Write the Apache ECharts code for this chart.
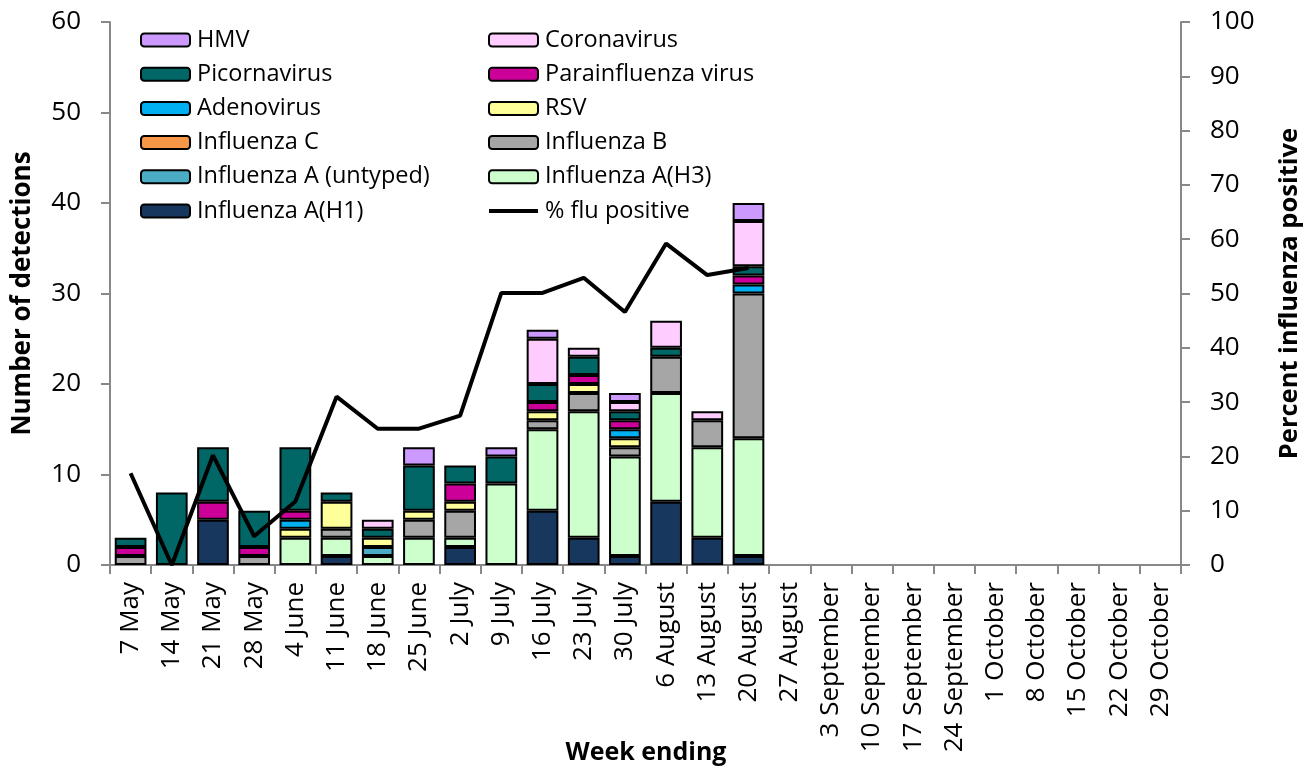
<!DOCTYPE html>
<html>
<head>
<meta charset="utf-8">
<script src="https://cdn.jsdelivr.net/npm/echarts@6/dist/echarts.min.js"></script>
<style>
  html, body { margin: 0; padding: 0; background: #fff; }
  #myChart { width: 1316px; height: 771px; }
</style>
</head>
<body>
<div id="myChart"></div>
<script>
// week ending
var weeks = ['7 May', '14 May', '21 May', '28 May', '4 June', '11 June', '18 June', '25 June',
  '2 July', '9 July', '16 July', '23 July', '30 July', '6 August', '13 August', '20 August',
  '27 August', '3 September', '10 September', '17 September', '24 September',
  '1 October', '8 October', '15 October', '22 October', '29 October']

// detections per week (stacked from bottom)
var fluH1      = [0, 0, 5, 0, 0, 1, 0, 0, 2, 0, 6, 3, 1, 7, 3, 1]
var fluH3      = [0, 0, 0, 0, 3, 2, 1, 3, 1, 9, 9, 14, 11, 12, 10, 13]
var fluUntyped = [0, 0, 0, 0, 0, 0, 1, 0, 0, 0, 0, 0, 0, 0, 0, 0]
var fluC       = [0, 0, 0, 0, 0, 0, 0, 0, 0, 0, 0, 0, 0, 0, 0, 0]
var fluB       = [1, 0, 0, 1, 0, 1, 0, 2, 3, 0, 1, 2, 1, 4, 3, 16]
var rsv        = [0, 0, 0, 0, 1, 3, 1, 1, 1, 0, 1, 1, 1, 0, 0, 0]
var adeno      = [0, 0, 0, 0, 1, 0, 0, 0, 0, 0, 0, 0, 1, 0, 0, 1]
var parainf    = [1, 0, 2, 1, 1, 0, 0, 0, 2, 0, 1, 1, 1, 0, 0, 1]
var picorna    = [1, 8, 6, 4, 7, 1, 1, 5, 2, 3, 2, 2, 1, 1, 0, 1]
var corona     = [0, 0, 0, 0, 0, 0, 1, 0, 0, 0, 5, 1, 1, 3, 1, 5]
var hmv        = [0, 0, 0, 0, 0, 0, 0, 2, 0, 1, 1, 0, 1, 0, 0, 2]

// % flu positive
var fluPct = [16.9, 0, 20.2, 5.3, 11.7, 31, 25.1, 25.1, 27.5, 50.1, 50.1, 52.9, 46.6, 59.2, 53.4, 54.7]

var leftNames = ['HMV', 'Picornavirus', 'Adenovirus', 'Influenza C', 'Influenza A (untyped)', 'Influenza A(H1)']
var rightNames = ['Coronavirus', 'Parainfluenza virus', 'RSV', 'Influenza B', 'Influenza A(H3)',
  { name: '% flu positive', icon: 'path://M0,0 L48,0 L48,4 L0,4 Z' }]

function bar (name, data, color) {
  return {
    name: name,
    type: 'bar',
    stack: 'det',
    barWidth: '77%',
    data: data.map(function (v) { return v === 0 ? null : v }),
    itemStyle: { color: color, borderColor: '#000', borderWidth: 2 }
  }
}

var axisGray = '#888888'
var legendBase = {
  orient: 'vertical',
  itemWidth: 49,
  itemHeight: 13,
  itemGap: 10.2,
  textStyle: { fontFamily: 'Open Sans', fontSize: 23.5, color: '#000', padding: [0, 0, 0, 2] },
  selectedMode: false
}

var option = {
  animation: false,
  textStyle: { fontFamily: 'Open Sans' },
  // x axis title
  title: {
    text: 'Week ending',
    left: 646,
    top: 740,
    textAlign: 'center',
    padding: 0,
    textStyle: { fontFamily: 'Open Sans', fontSize: 25, fontWeight: 'bold', color: '#000' }
  },
  grid: { left: 110, right: 135, top: 22, bottom: 206, outerBoundsMode: 'none', containLabel: false },
  legend: [
    Object.assign({ left: 135, top: 23, data: leftNames }, legendBase),
    Object.assign({ left: 483, top: 23, data: rightNames }, legendBase)
  ],
  xAxis: {
    type: 'category',
    data: weeks,
    axisLine: { lineStyle: { color: axisGray, width: 2 } },
    axisTick: { show: true, length: 9, lineStyle: { color: axisGray, width: 2 } },
    axisLabel: { rotate: 90, fontSize: 26, color: '#000', margin: 17, interval: 0 }
  },
  yAxis: [
    {
      type: 'value',
      min: 0, max: 60, interval: 10,
      name: 'Number of detections',
      nameLocation: 'middle',
      nameGap: 74,
      nameTextStyle: { fontSize: 26, fontWeight: 'bold', color: '#000' },
      axisLine: { show: true, lineStyle: { color: axisGray, width: 2 } },
      axisTick: { show: true, length: 9, lineStyle: { color: axisGray, width: 2 } },
      axisLabel: { fontSize: 26, color: '#000', margin: 29 },
      splitLine: { show: false }
    },
    {
      type: 'value',
      min: 0, max: 100, interval: 10,
      name: 'Percent influenza positive',
      nameLocation: 'middle',
      nameGap: 96,
      nameRotate: 90,
      nameTextStyle: { fontSize: 25.5, fontWeight: 'bold', color: '#000' },
      axisLine: { show: true, lineStyle: { color: axisGray, width: 2 } },
      axisTick: { show: true, length: 9, lineStyle: { color: axisGray, width: 2 } },
      axisLabel: { fontSize: 26, color: '#000', margin: 29 },
      splitLine: { show: false }
    }
  ],
  series: [
    bar('Influenza A(H1)', fluH1, '#17375E'),
    bar('Influenza A(H3)', fluH3, '#CCFFCC'),
    bar('Influenza A (untyped)', fluUntyped, '#4BACC6'),
    bar('Influenza C', fluC, '#F79646'),
    bar('Influenza B', fluB, '#A6A6A6'),
    bar('RSV', rsv, '#FFFF99'),
    bar('Adenovirus', adeno, '#00B0F0'),
    bar('Parainfluenza virus', parainf, '#CC0099'),
    bar('Picornavirus', picorna, '#006666'),
    bar('Coronavirus', corona, '#FFCCFF'),
    bar('HMV', hmv, '#CC99FF'),
    {
      name: '% flu positive',
      type: 'line',
      yAxisIndex: 1,
      data: fluPct,
      showSymbol: false,
      symbol: 'none',
      z: 10,
      lineStyle: { color: '#000', width: 4 },
      itemStyle: { color: '#000' }
    }
  ]
}

var myChart = echarts.init(document.getElementById('myChart'))
myChart.setOption(option)
</script>
</body>
</html>
